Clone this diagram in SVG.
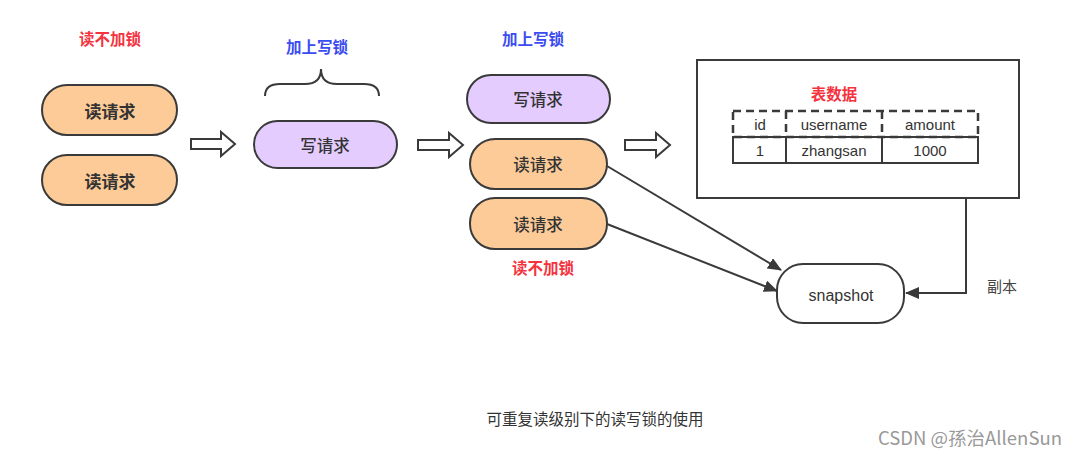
<svg xmlns="http://www.w3.org/2000/svg" width="1080" height="456" viewBox="0 0 1080 456">
<defs>
<style>
.t{font-family:"Noto Sans CJK SC","Noto Sans",sans-serif;text-anchor:middle;dominant-baseline:central}
.read{fill:#FDCB98;stroke:#3a3a3a;stroke-width:2}
.write{fill:#E5CCFF;stroke:#3a3a3a;stroke-width:2}
.nt{font-size:17px;fill:#333;font-weight:bold}
.nm{font-size:16.5px;fill:#333;font-weight:500}
.red{fill:#F5333F;font-size:15.5px;font-weight:bold}
.blue{fill:#3B4CF0;font-size:15.5px;font-weight:bold}
.hollow{fill:#fff;stroke:#3a3a3a;stroke-width:2}
.line{stroke:#3a3a3a;stroke-width:2;fill:none}
.tbl{font-family:"Liberation Sans",Arial,sans-serif;font-size:15px;fill:#333;text-anchor:middle;dominant-baseline:central}
</style>
<marker id="ah2" markerWidth="14" markerHeight="12" refX="13" refY="6" orient="auto" markerUnits="userSpaceOnUse" viewBox="0 0 14 12">
<path d="M0,0 L14,6 L0,12 Z" fill="#3a3a3a"/>
</marker>
</defs>
<rect width="1080" height="456" fill="#fff"/>

<text class="t red" x="110" y="38">读不加锁</text>
<g id="read1"><rect class="read" x="42" y="85" width="135" height="50" rx="25"/><text class="t nt" x="110" y="110">读请求</text></g>
<g id="read2"><rect class="read" x="42" y="155" width="135" height="50" rx="25"/><text class="t nt" x="110" y="180">读请求</text></g>

<g id="arrow1"><path class="hollow" d="M191,139 L221,139 L221,132 L235,144 L221,156 L221,149 L191,149 Z"/></g>

<text class="t blue" x="317" y="46">加上写锁</text>
<g id="brace"><path class="line" d="M265,96 Q265,84 280,84 L305,84 Q321,84 321,69 Q321,84 337,84 L364,84 Q379,84 379,96"/></g>
<g id="write1"><rect class="write" x="254" y="121" width="143" height="47" rx="23.5"/><text class="t nm" x="325" y="145">写请求</text></g>

<g id="arrow2"><path class="hollow" d="M418,140 L449,140 L449,133 L463,145 L449,157 L449,150 L418,150 Z"/></g>

<text class="t blue" x="533" y="38">加上写锁</text>
<g id="write2"><rect class="write" x="467" y="75" width="143" height="48" rx="24"/><text class="t nm" x="538" y="99">写请求</text></g>
<g id="read3"><rect class="read" x="470" y="139" width="137" height="50" rx="25"/><text class="t nm" x="538" y="164">读请求</text></g>
<g id="read4"><rect class="read" x="470" y="198" width="137" height="51" rx="25"/><text class="t nm" x="538" y="224">读请求</text></g>
<text class="t red" x="543" y="267">读不加锁</text>

<g id="arrow3"><path class="hollow" d="M625,140 L656,140 L656,133 L670,145 L656,157 L656,150 L625,150 Z"/></g>

<g id="table-box">
<rect x="697" y="60" width="322" height="138" fill="#fff" stroke="#3a3a3a" stroke-width="2"/>
<text class="t red" x="834" y="93">表数据</text>
<rect x="733" y="111" width="245" height="26" fill="none" stroke="#3a3a3a" stroke-width="2.5" stroke-dasharray="8,5"/>
<line x1="786" y1="111" x2="786" y2="137" stroke="#3a3a3a" stroke-width="2.5" stroke-dasharray="8,5"/>
<line x1="882" y1="111" x2="882" y2="137" stroke="#3a3a3a" stroke-width="2.5" stroke-dasharray="8,5"/>
<rect x="733" y="137" width="245" height="26" fill="none" stroke="#3a3a3a" stroke-width="2"/>
<line x1="786" y1="137" x2="786" y2="163" stroke="#3a3a3a" stroke-width="2"/>
<line x1="882" y1="137" x2="882" y2="163" stroke="#3a3a3a" stroke-width="2"/>
<text class="tbl" x="760" y="124">id</text>
<text class="tbl" x="834" y="124">username</text>
<text class="tbl" x="930" y="124">amount</text>
<text class="tbl" x="760" y="150">1</text>
<text class="tbl" x="834" y="150">zhangsan</text>
<text class="tbl" x="930" y="150">1000</text>
</g>

<g id="snapshot"><rect x="777" y="264" width="127" height="59" rx="26" fill="#fff" stroke="#3a3a3a" stroke-width="2"/><text class="tbl" x="841" y="295" style="font-size:16px">snapshot</text></g>

<g id="connectors">
<line class="line" x1="607" y1="166" x2="781" y2="270" marker-end="url(#ah2)"/>
<line class="line" x1="607" y1="224" x2="777" y2="291" marker-end="url(#ah2)"/>
<path class="line" d="M966,198 L966,293 L906,293" marker-end="url(#ah2)"/>
</g>
<text class="t" x="1002" y="285" style="font-size:15px;fill:#444">副本</text>

<text class="t" x="595" y="418" style="font-size:15.5px;fill:#333">可重复读级别下的读写锁的使用</text>
<text class="t" x="970" y="437" style="font-size:18.5px;fill:#999">CSDN @孫治AllenSun</text>
</svg>
